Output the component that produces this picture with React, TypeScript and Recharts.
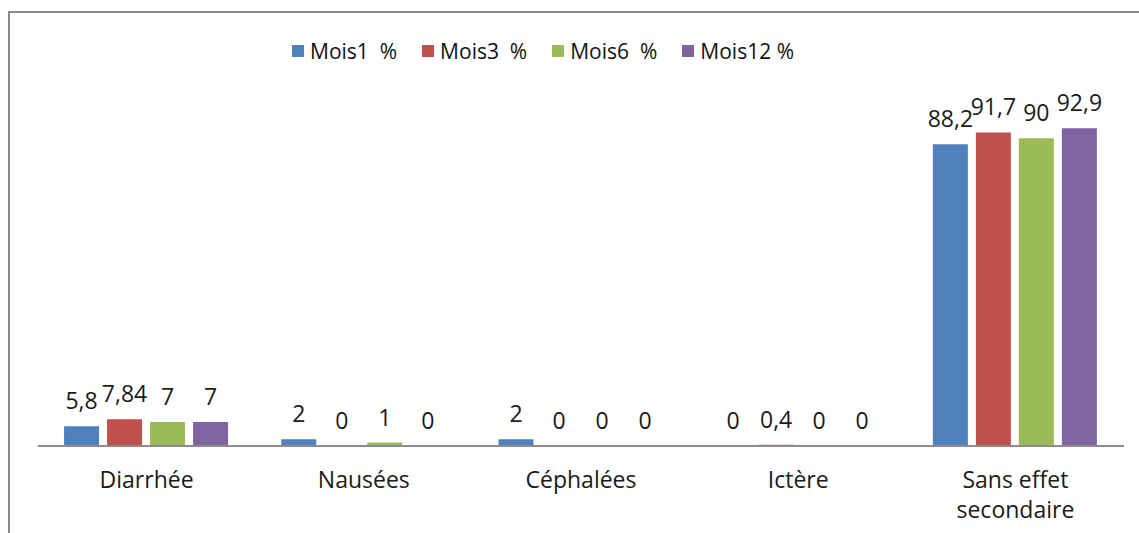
import React from "react";
import { BarChart, Bar, XAxis, YAxis, Legend, LabelList } from "recharts";

const categories = ["Diarrhée", "Nausées", "Céphalées", "Ictère", "Sans effet secondaire"];
const mois1 = [5.8, 2, 2, 0, 88.2];
const mois3 = [7.84, 0, 0, 0.4, 91.7];
const mois6 = [7, 1, 0, 0, 90];
const mois12 = [7, 0, 0, 0, 92.9];

const seriesNames = ["Mois1  %", "Mois3  %", "Mois6  %", "Mois12 %"];
const COLORS = ["#4F81BD", "#C0504D", "#9BBB59", "#8064A2"];

const data = categories.map((c, i) => ({
  name: c,
  m1: mois1[i],
  m3: mois3[i],
  m6: mois6[i],
  m12: mois12[i],
}));

const FONT = "'Open Sans', 'Noto Sans', sans-serif";
const fmt = (v: any) => String(v).replace(".", ",");

function splitLabel(s: string): string[] {
  if (s.length <= 12) return [s];
  const mid = s.length / 2;
  let best = -1;
  for (let i = 0; i < s.length; i++) {
    if (s[i] === " " && (best < 0 || Math.abs(i - mid) < Math.abs(best - mid))) best = i;
  }
  if (best < 0) return [s];
  return [s.slice(0, best), s.slice(best + 1)];
}

const Tick = (props: any) => {
  const { x, y, payload } = props;
  const lines = splitLabel(payload.value);
  return (
    <text x={x} y={y} textAnchor="middle" fontSize={23} fill="#1a1a1a" fontFamily={FONT}>
      {lines.map((l, i) => (
        <tspan key={i} x={x} dy={i === 0 ? 34 : 30}>
          {l}
        </tspan>
      ))}
    </text>
  );
};

const LegendContent = (props: any) => {
  const items = [...(props.payload || [])].sort(
    (a: any, b: any) => seriesNames.indexOf(a.value) - seriesNames.indexOf(b.value)
  );
  return (
    <div style={{ display: "flex", alignItems: "center", height: 20, fontFamily: FONT, fontSize: 21, color: "#111" }}>
      {items.map((p: any, i: number) => (
        <div key={i} style={{ display: "flex", alignItems: "center", marginRight: 25 }}>
          <span style={{ display: "inline-block", width: 12, height: 12, background: p.color, marginRight: 6 }} />
          <span style={{ whiteSpace: "pre", lineHeight: "20px" }}>{p.value}</span>
        </div>
      ))}
    </div>
  );
};

export default function App() {
  const keys = ["m1", "m3", "m6", "m12"];
  return (
    <div
      style={{
        position: "fixed",
        left: 8,
        top: 11,
        width: 1131,
        height: 522,
        borderTop: "2px solid #8a8a8a",
        borderLeft: "2px solid #8a8a8a",
        boxSizing: "border-box",
        background: "#fff",
      }}
    >
      <BarChart
        width={1129}
        height={520}
        data={data}
        margin={{ top: 91, right: 15, bottom: 17, left: 28 }}
        barCategoryGap="12%"
        barGap={8}
      >
        <XAxis
          dataKey="name"
          interval={0}
          tickLine={false}
          axisLine={{ stroke: "#8c8c8c", strokeWidth: 2 }}
          tick={<Tick />}
          height={70}
        />
        <YAxis hide domain={[0, 100]} />
        <Legend
          verticalAlign="middle"
          align="center"
          content={<LegendContent />}
          wrapperStyle={{ position: "absolute", left: 282, top: 28, width: "auto" }}
        />
        {keys.map((k, i) => (
          <Bar
            key={k}
            dataKey={k}
            name={seriesNames[i]}
            fill={COLORS[i]}
            minPointSize={0.01}
            isAnimationActive={false}
          >
            <LabelList
              dataKey={k}
              position="top"
              offset={17}
              formatter={fmt}
              style={{ fontSize: 23, fill: "#1a1a1a", fontFamily: FONT }}
            />
          </Bar>
        ))}
      </BarChart>
    </div>
  );
}
